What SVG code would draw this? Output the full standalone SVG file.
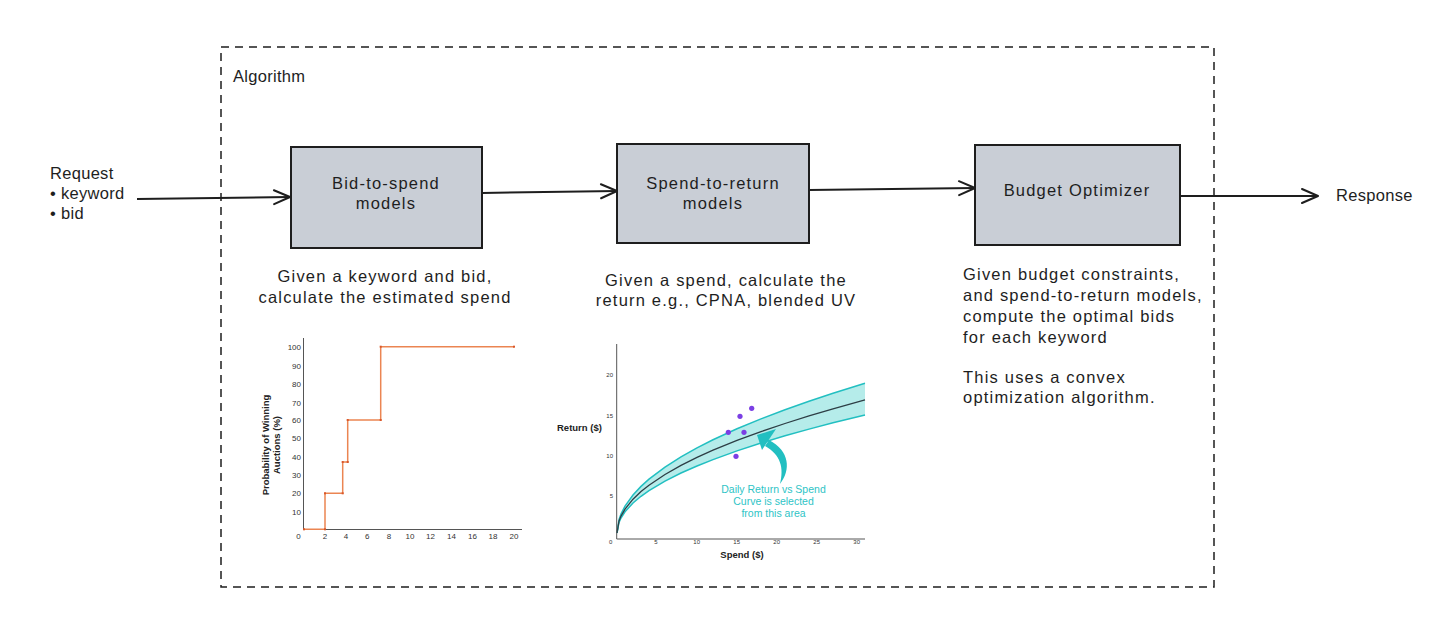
<svg xmlns="http://www.w3.org/2000/svg" width="1429" height="627" viewBox="0 0 1429 627">
<defs>
<style>
.hand{font-family:"Liberation Sans","DejaVu Sans",sans-serif;font-size:16.5px;letter-spacing:1.2px;fill:#1e1e1e}
.tight{letter-spacing:0.3px}
.box{fill:#c9ced6;stroke:#1e1e1e;stroke-width:2}
.conn{stroke:#1e1e1e;stroke-width:2;fill:none}
.ax{stroke:#555;stroke-width:1;fill:none}
.tick{font-family:"Liberation Sans",Arial,sans-serif;font-size:8px;fill:#333}
.tick2{font-family:"Liberation Sans",Arial,sans-serif;font-size:6px;fill:#333}
.axt{font-family:"Liberation Sans",Arial,sans-serif;font-size:9.5px;font-weight:bold;fill:#222}
.teal{font-family:"Liberation Sans",Arial,sans-serif;font-size:10.5px;fill:#2ec4c6}
</style>
<marker id="arr" viewBox="0 0 20 20" refX="18" refY="10" markerWidth="20" markerHeight="20" markerUnits="userSpaceOnUse" orient="auto">
<path d="M2,3 L18,10 L2,17" fill="none" stroke="#1e1e1e" stroke-width="2" stroke-linecap="round" stroke-linejoin="round"/>
</marker>
</defs>
<rect width="1429" height="627" fill="#ffffff"/>

<g id="algorithm-frame">
<rect x="221" y="47" width="993" height="540" fill="none" stroke="#1e1e1e" stroke-width="1.5" stroke-dasharray="8 6"/>
<text class="hand tight" x="233" y="82" font-size="15">Algorithm</text>
</g>

<g id="request">
<text class="hand tight" x="50" y="179">Request</text>
<text class="hand tight" x="50" y="199">• keyword</text>
<text class="hand tight" x="50" y="219">• bid</text>
</g>

<g id="response">
<text class="hand tight" x="1336" y="201">Response</text>
</g>

<g id="connectors">
<path class="conn" d="M137,199 L290,197" marker-end="url(#arr)"/>
<path class="conn" d="M482,193 L617,191" marker-end="url(#arr)"/>
<path class="conn" d="M809,190 L975,188" marker-end="url(#arr)"/>
<path class="conn" d="M1180,196 L1318,196" marker-end="url(#arr)"/>
</g>

<g id="bid-to-spend">
<rect class="box" x="291" y="147" width="191" height="101"/>
<text class="hand" x="386" y="189" text-anchor="middle">Bid-to-spend</text>
<text class="hand" x="386" y="209" text-anchor="middle">models</text>
<text class="hand" x="385" y="282" text-anchor="middle">Given a keyword and bid,</text>
<text class="hand" x="385" y="303" text-anchor="middle">calculate the estimated spend</text>
</g>

<g id="spend-to-return">
<rect class="box" x="617" y="144" width="192" height="99"/>
<text class="hand" x="713" y="189" text-anchor="middle">Spend-to-return</text>
<text class="hand" x="713" y="209" text-anchor="middle">models</text>
<text class="hand" x="726" y="286" text-anchor="middle">Given a spend, calculate the</text>
<text class="hand" x="726" y="306" text-anchor="middle">return e.g., CPNA, blended UV</text>
</g>

<g id="budget-optimizer">
<rect class="box" x="975" y="145" width="205" height="100"/>
<text class="hand" x="1077" y="196" text-anchor="middle">Budget Optimizer</text>
<text class="hand" x="963" y="280">Given budget constraints,</text>
<text class="hand" x="963" y="301">and spend-to-return models,</text>
<text class="hand" x="963" y="322">compute the optimal bids</text>
<text class="hand" x="963" y="343">for each keyword</text>
<text class="hand" x="963" y="383">This uses a convex</text>
<text class="hand" x="963" y="403">optimization algorithm.</text>
</g>

<g id="chart-win-probability">
<path class="ax" d="M303.5,338 L303.5,529.5 L522,529.5"/>
<g class="tick" text-anchor="end">
<text x="301" y="349.5">100</text>
<text x="301" y="368.5">90</text>
<text x="301" y="387">80</text>
<text x="301" y="405.5">70</text>
<text x="301" y="423">60</text>
<text x="301" y="441">50</text>
<text x="301" y="459.5">40</text>
<text x="301" y="478">30</text>
<text x="301" y="496">20</text>
<text x="301" y="514.5">10</text>
</g>
<g class="tick" text-anchor="middle">
<text x="298.5" y="539">0</text>
<text x="325" y="539">2</text>
<text x="346" y="539">4</text>
<text x="367.3" y="539">6</text>
<text x="389" y="539">8</text>
<text x="410" y="539">10</text>
<text x="430.5" y="539">12</text>
<text x="451.5" y="539">14</text>
<text x="472.5" y="539">16</text>
<text x="493" y="539">18</text>
<text x="514" y="539">20</text>
</g>
<text class="axt" transform="translate(269,445) rotate(-90)" text-anchor="middle">Probability of Winning</text>
<text class="axt" transform="translate(280,445) rotate(-90)" text-anchor="middle">Auctions (%)</text>
<path d="M304,529.3 L325,529.3 L325,493.3 L342.7,493.3 L342.7,462 L347.7,462 L347.7,420 L380.7,420 L380.7,346.7 L514,346.7" fill="none" stroke="#eb8552" stroke-width="1.5"/>
<g fill="#d9572a">
<rect x="303" y="528.3" width="2" height="2"/>
<rect x="324" y="528.3" width="2" height="2"/>
<rect x="324" y="492.3" width="2" height="2"/>
<rect x="341.7" y="492.3" width="2" height="2"/>
<rect x="341.7" y="461" width="2" height="2"/>
<rect x="346.7" y="461" width="2" height="2"/>
<rect x="346.7" y="419" width="2" height="2"/>
<rect x="379.7" y="419" width="2" height="2"/>
<rect x="379.7" y="345.7" width="2" height="2"/>
<rect x="513" y="345.7" width="2" height="2"/>
</g>
</g>

<g id="chart-return-vs-spend">
<path d="M617,533 L619,519.6 L621,514 L625,506.1 L633,495 L641,486.4 L649,479.2 L665,467.1 L681,456.9 L697,447.9 L713,439.8 L737,428.8 L761,418.9 L785,409.7 L809,401.2 L833,393.2 L865,383.2 L865,415 L833,422.8 L809,429.1 L785,435.8 L761,443 L737,450.9 L713,459.6 L697,466 L681,473 L665,481.1 L649,490.6 L641,496.3 L633,503 L625,511.8 L621,518 L619,522.4 Z" fill="#b5ecea" stroke="none"/>
<path d="M617,533 L619,519.6 L621,514 L625,506.1 L633,495 L641,486.4 L649,479.2 L665,467.1 L681,456.9 L697,447.9 L713,439.8 L737,428.8 L761,418.9 L785,409.7 L809,401.2 L833,393.2 L865,383.2" fill="none" stroke="#22bfc1" stroke-width="1.5"/>
<path d="M617,533 L619,522.4 L621,518 L625,511.8 L633,503 L641,496.3 L649,490.6 L665,481.1 L681,473 L697,466 L713,459.6 L737,450.9 L761,443 L785,435.8 L809,429.1 L833,422.8 L865,415" fill="none" stroke="#22bfc1" stroke-width="1.5"/>
<path d="M617,533 L619,521.1 L621,516.1 L625,509.1 L633,499.2 L641,491.6 L649,485.2 L665,474.5 L681,465.4 L697,457.4 L713,450.2 L737,440.4 L761,431.6 L785,423.5 L809,415.9 L833,408.8 L865,399.9" fill="none" stroke="#2d3e45" stroke-width="1.3"/>
<path class="ax" d="M616.7,344 L616.7,539 L865,539" stroke="#444"/>
<g class="tick2" text-anchor="end">
<text x="613" y="377">20</text>
<text x="613" y="417.5">15</text>
<text x="613" y="457.5">10</text>
<text x="613" y="497.5">5</text>
</g>
<g class="tick2" text-anchor="middle">
<text x="610.7" y="544">0</text>
<text x="656" y="544">5</text>
<text x="696.7" y="544">10</text>
<text x="736.7" y="544">15</text>
<text x="776.7" y="544">20</text>
<text x="816.7" y="544">25</text>
<text x="856.7" y="544">30</text>
</g>
<text class="axt" x="557" y="431" font-size="8.5">Return ($)</text>
<text class="axt" x="742" y="558" font-size="8.5" text-anchor="middle">Spend ($)</text>
<g fill="#7b3fe4">
<circle cx="728.3" cy="432.3" r="2.6"/>
<circle cx="740" cy="416.3" r="2.6"/>
<circle cx="751.7" cy="408.3" r="2.6"/>
<circle cx="744" cy="432.3" r="2.6"/>
<circle cx="736" cy="456.3" r="2.6"/>
</g>
<path d="M780,484 C791,470 790,451 769,440 L765,446 C781,455 784,468 780,484 Z" fill="#22bfc1"/>
<path d="M757,435 L776,429 L762,450 Z" fill="#22bfc1"/>
<text class="teal" x="773.5" y="493" text-anchor="middle">Daily Return vs Spend</text>
<text class="teal" x="773.5" y="505" text-anchor="middle">Curve is selected</text>
<text class="teal" x="773.5" y="517" text-anchor="middle">from this area</text>
</g>
</svg>
